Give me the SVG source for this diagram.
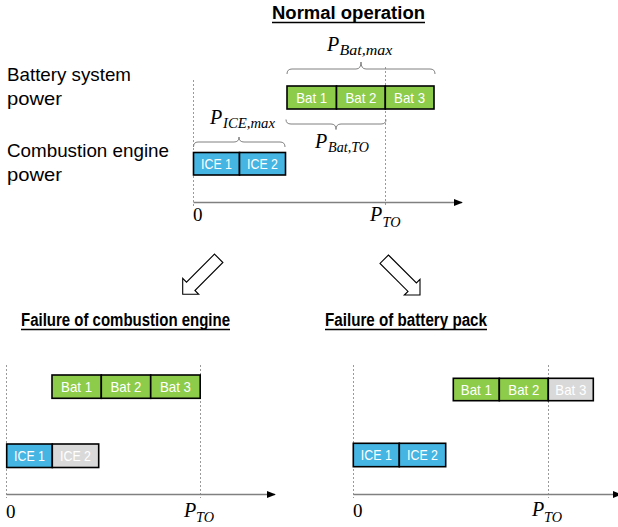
<svg xmlns="http://www.w3.org/2000/svg" width="618" height="527" viewBox="0 0 618 527">
<defs>
<marker id="ah" viewBox="0 0 10 10" refX="9" refY="5" markerWidth="9" markerHeight="9" markerUnits="userSpaceOnUse" orient="auto"><path d="M0,1 L10,5 L0,9 z" fill="#000"/></marker>
<style>
.lbl{font-family:"Liberation Sans",Arial,sans-serif;font-size:18.5px;fill:#000}
.ttl{font-family:"Liberation Sans",Arial,sans-serif;font-size:18px;font-weight:bold;fill:#000}
.ul{stroke:#000;stroke-width:1.4}
.box{stroke:#000;stroke-width:1.6}
.bat{fill:#8DCB4A}
.ice{fill:#45B5E3}
.off{fill:#D9D9D9}
.bt{font-family:"Liberation Sans",Arial,sans-serif;font-size:15px;fill:#fff;text-anchor:middle}
.dash{stroke:#808080;stroke-width:0.8;stroke-dasharray:2,2;fill:none}
.axis{stroke:#808080;stroke-width:1.3;fill:none}
.brace{stroke:#808080;stroke-width:1;fill:none}
.m{font-family:"Liberation Serif","Times New Roman",serif;font-style:italic;font-size:20px;fill:#000}
.ms{font-size:15px}
.n{font-family:"Liberation Serif","Times New Roman",serif;font-size:19px;fill:#000}
.blk{fill:#fff;stroke:#000;stroke-width:1.1}
</style>
</defs>

<!-- Titles -->
<g id="title-normal">
<text class="ttl" x="272" y="19" textLength="153" lengthAdjust="spacingAndGlyphs">Normal operation</text>
<line class="ul" x1="272" y1="22.5" x2="425" y2="22.5"/>
</g>
<g id="title-ice-fail">
<text class="ttl" x="21" y="326" textLength="209" lengthAdjust="spacingAndGlyphs">Failure of combustion engine</text>
<line class="ul" x1="21" y1="329.5" x2="230" y2="329.5"/>
</g>
<g id="title-bat-fail">
<text class="ttl" x="325" y="326" textLength="162" lengthAdjust="spacingAndGlyphs">Failure of battery pack</text>
<line class="ul" x1="325" y1="329.5" x2="487" y2="329.5"/>
</g>

<!-- Left labels -->
<g id="label-battery">
<text class="lbl" x="7" y="81" textLength="124" lengthAdjust="spacingAndGlyphs">Battery system</text>
<text class="lbl" x="7" y="105" textLength="55" lengthAdjust="spacingAndGlyphs">power</text>
</g>
<g id="label-ice">
<text class="lbl" x="7" y="157" textLength="162" lengthAdjust="spacingAndGlyphs">Combustion engine</text>
<text class="lbl" x="7" y="181" textLength="55" lengthAdjust="spacingAndGlyphs">power</text>
</g>

<!-- Connectors: axes, dashed guides, braces, block arrows -->
<g id="connectors">
<line class="dash" x1="193.5" y1="80" x2="193.5" y2="206"/>
<line class="dash" x1="385.5" y1="67" x2="385.5" y2="206"/>
<line class="axis" x1="193.5" y1="202.5" x2="462" y2="202.5" marker-end="url(#ah)"/>

<line class="dash" x1="6.5" y1="365" x2="6.5" y2="498"/>
<line class="dash" x1="200.5" y1="365" x2="200.5" y2="498"/>
<line class="axis" x1="6.5" y1="494.5" x2="275" y2="494.5" marker-end="url(#ah)"/>

<line class="dash" x1="353.5" y1="365" x2="353.5" y2="498"/>
<line class="dash" x1="548.5" y1="365" x2="548.5" y2="498"/>
<line class="axis" x1="353.5" y1="494.5" x2="621" y2="494.5" marker-end="url(#ah)"/>

<path class="brace" d="M287,74 Q287,69 292,69 L356,69 Q361,69 361,62 Q361,69 366,69 L430,69 Q435,69 435,74"/>
<path class="brace" d="M193.5,147 Q193.5,142 198,142 L234,142 Q239,142 239,137 Q239,142 244,142 L280,142 Q285,142 285,147"/>
<path class="brace" d="M286,119.5 Q286,124 291,124 L331,124 Q336,124 336,129.5 Q336,124 341,124 L381,124 Q386,124 386,119.5"/>

<polygon class="blk" points="214.5,254.1 222.9,262.5 194.9,290.5 198.7,294.3 182.7,294.3 182.7,278.3 186.5,282.1"/>
<polygon class="blk" points="388.4,255 416.4,283 420,279.3 420,295 404.3,295 408,291.4 380,263.4"/>
</g>

<!-- Math labels -->
<g id="math-labels">
<text class="m" x="327" y="51">P<tspan class="ms" x="339.5" y="55" textLength="53" lengthAdjust="spacingAndGlyphs">Bat,max</tspan></text>
<text class="m" x="210" y="123.5">P<tspan class="ms" x="223" y="127.5" textLength="52" lengthAdjust="spacingAndGlyphs">ICE,max</tspan></text>
<text class="m" x="315" y="148">P<tspan class="ms" x="328" y="152" textLength="41" lengthAdjust="spacingAndGlyphs">Bat,TO</tspan></text>
<text class="n" x="193" y="221">0</text>
<text class="m" x="370" y="221">P<tspan class="ms" x="382.5" y="227" textLength="18" lengthAdjust="spacingAndGlyphs">TO</tspan></text>
<text class="n" x="6" y="518">0</text>
<text class="m" x="184" y="517">P<tspan class="ms" x="196" y="522" textLength="18" lengthAdjust="spacingAndGlyphs">TO</tspan></text>
<text class="n" x="353" y="517">0</text>
<text class="m" x="532" y="516">P<tspan class="ms" x="544" y="522" textLength="18" lengthAdjust="spacingAndGlyphs">TO</tspan></text>
</g>

<!-- Normal operation boxes -->
<g id="top-bat1"><rect class="box bat" x="287" y="86" width="49.5" height="23"/><text class="bt" x="311.7" y="103" textLength="31" lengthAdjust="spacingAndGlyphs">Bat 1</text></g>
<g id="top-bat2"><rect class="box bat" x="336.5" y="86" width="48.8" height="23"/><text class="bt" x="360.9" y="103" textLength="31" lengthAdjust="spacingAndGlyphs">Bat 2</text></g>
<g id="top-bat3"><rect class="box bat" x="385.3" y="86" width="48.7" height="23"/><text class="bt" x="409.6" y="103" textLength="31" lengthAdjust="spacingAndGlyphs">Bat 3</text></g>
<g id="top-ice1"><rect class="box ice" x="193.5" y="152.5" width="46" height="22.5"/><text class="bt" x="216.5" y="169.2" textLength="31" lengthAdjust="spacingAndGlyphs">ICE 1</text></g>
<g id="top-ice2"><rect class="box ice" x="239.5" y="152.5" width="46" height="22.5"/><text class="bt" x="262.5" y="169.2" textLength="31" lengthAdjust="spacingAndGlyphs">ICE 2</text></g>

<!-- Failure of combustion engine boxes -->
<g id="l-bat1"><rect class="box bat" x="52" y="375" width="49.3" height="23.3"/><text class="bt" x="76.6" y="392.2" textLength="31" lengthAdjust="spacingAndGlyphs">Bat 1</text></g>
<g id="l-bat2"><rect class="box bat" x="101.3" y="375" width="49.4" height="23.3"/><text class="bt" x="126" y="392.2" textLength="31" lengthAdjust="spacingAndGlyphs">Bat 2</text></g>
<g id="l-bat3"><rect class="box bat" x="150.7" y="375" width="49.5" height="23.3"/><text class="bt" x="175.4" y="392.2" textLength="31" lengthAdjust="spacingAndGlyphs">Bat 3</text></g>
<g id="l-ice1"><rect class="box ice" x="6.7" y="444" width="45.6" height="23.5"/><text class="bt" x="29.5" y="461" textLength="31" lengthAdjust="spacingAndGlyphs">ICE 1</text></g>
<g id="l-ice2"><rect class="box off" x="52.3" y="444" width="46.4" height="23.5"/><text class="bt" x="75.5" y="461" textLength="31" lengthAdjust="spacingAndGlyphs">ICE 2</text></g>

<!-- Failure of battery pack boxes -->
<g id="r-bat1"><rect class="box bat" x="453.3" y="378.3" width="46" height="22.4"/><text class="bt" x="476.3" y="395" textLength="31" lengthAdjust="spacingAndGlyphs">Bat 1</text></g>
<g id="r-bat2"><rect class="box bat" x="499.3" y="378.3" width="49" height="22.4"/><text class="bt" x="523.8" y="395" textLength="31" lengthAdjust="spacingAndGlyphs">Bat 2</text></g>
<g id="r-bat3"><rect class="box off" x="548.3" y="378.3" width="45" height="22.4"/><text class="bt" x="570.8" y="395" textLength="31" lengthAdjust="spacingAndGlyphs">Bat 3</text></g>
<g id="r-ice1"><rect class="box ice" x="353.3" y="443.3" width="46" height="23.4"/><text class="bt" x="376.3" y="460.2" textLength="31" lengthAdjust="spacingAndGlyphs">ICE 1</text></g>
<g id="r-ice2"><rect class="box ice" x="399.3" y="443.3" width="46.4" height="23.4"/><text class="bt" x="422.5" y="460.2" textLength="31" lengthAdjust="spacingAndGlyphs">ICE 2</text></g>
</svg>
